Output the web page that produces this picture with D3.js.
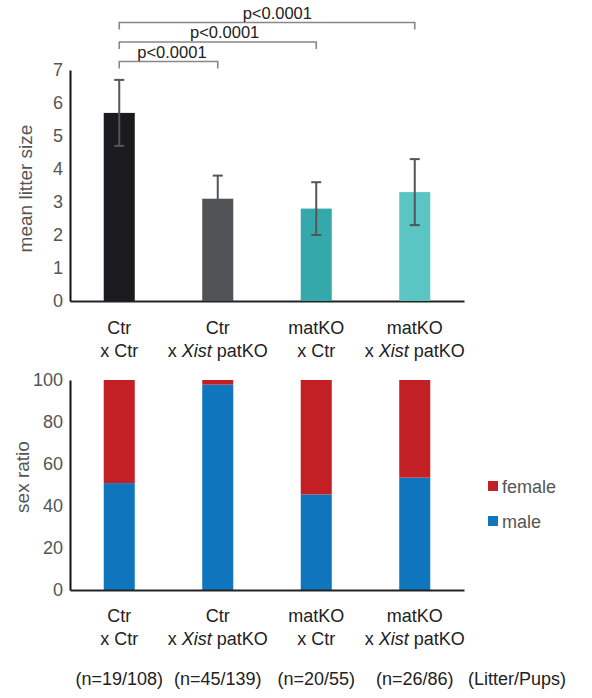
<!DOCTYPE html>
<html>
<head>
<meta charset="utf-8">
<script src="https://cdn.jsdelivr.net/npm/d3@7"></script>
<style>
  body { margin: 0; background: #fff; }
  svg text { font-family: "Liberation Sans", Arial, sans-serif; }
</style>
</head>
<body>
<svg width="592" height="698"></svg>
<script>
// data
var mothers = ["Ctr", "Ctr", "matKO", "matKO"];
var fathers = ["Ctr", "Xist patKO", "Ctr", "Xist patKO"];
var meanLitter = [5.7, 3.1, 2.8, 3.3];
var litterErr = [1.0, 0.7, 0.8, 1.0];
var barColors = ["#1b1a1f", "#505457", "#35a8ab", "#5bc5c4"];
var comparisons = [[0, 1], [0, 2], [0, 3]];
var pLabels = ["p<0.0001", "p<0.0001", "p<0.0001"];
var malePct = [50.9, 97.8, 45.5, 53.5];
var femalePct = [49.1, 2.2, 54.5, 46.5];
var sexKeys = ["male", "female"];
var sexColors = { male: "#0f75bc", female: "#c32026" };
var nLabels = ["(n=19/108)", "(n=45/139)", "(n=20/55)", "(n=26/86)"];
var litterTicks = [0, 1, 2, 3, 4, 5, 6, 7];
var ratioTicks = [0, 20, 40, 60, 80, 100];

var svg = d3.select("svg");
var idx = d3.range(mothers.length);

var x = d3.scaleBand()
  .domain(idx)
  .range([70, 464])
  .paddingInner(0.685)
  .paddingOuter(0.3425);
var cx = function (i) { return x(i) + x.bandwidth() / 2; };

var yTop = d3.scaleLinear().domain([0, 7]).range([301, 70]);
var yBot = d3.scaleLinear().domain([0, 100]).range([590, 380]);

function yAxis(g, scale, ticks) {
  g.call(d3.axisLeft(scale).tickValues(ticks).tickFormat(d3.format("d"))
    .tickSize(0).tickPadding(7).tickSizeOuter(0));
  g.select(".domain").attr("stroke", "#111").attr("stroke-width", 2);
  g.selectAll("text").attr("font-size", 18).attr("fill", "#555")
    .attr("font-family", "Liberation Sans, Arial, sans-serif");
}

function xAxis(g) {
  g.call(d3.axisBottom(x).tickSize(0).tickSizeOuter(0).tickFormat(""));
  g.select(".domain").attr("stroke", "#222").attr("stroke-width", 2);
}

function catLabels(y0) {
  var g = svg.append("g").attr("font-size", 18).attr("fill", "#222").attr("text-anchor", "middle");
  g.selectAll(".l1").data(idx).enter().append("text")
    .attr("x", cx).attr("y", y0)
    .text(function (i) { return mothers[i]; });
  var t = g.selectAll(".l2").data(idx).enter().append("text")
    .attr("x", cx).attr("y", y0 + 23);
  t.each(function (i) {
    var el = d3.select(this);
    el.append("tspan").text("x ");
    fathers[i].split(" ").forEach(function (w, k) {
      if (k > 0) el.append("tspan").text(" ");
      el.append("tspan").text(w).attr("font-style", w === "Xist" ? "italic" : null);
    });
  });
}

// ---- top: mean litter size ----
svg.append("g").attr("transform", "translate(0,301)").call(xAxis);

svg.append("g").selectAll("rect").data(idx).enter().append("rect")
  .attr("x", function (i) { return x(i); })
  .attr("width", x.bandwidth())
  .attr("y", function (i) { return yTop(meanLitter[i]); })
  .attr("height", function (i) { return yTop(0) - yTop(meanLitter[i]); })
  .attr("fill", function (i) { return barColors[i]; });

var eb = svg.append("g").attr("stroke", "#555").attr("stroke-width", 2);
idx.forEach(function (i) {
  var hi = yTop(meanLitter[i] + litterErr[i]), lo = yTop(meanLitter[i] - litterErr[i]);
  eb.append("line").attr("x1", cx(i)).attr("x2", cx(i)).attr("y1", hi).attr("y2", lo);
  eb.append("line").attr("x1", cx(i) - 5).attr("x2", cx(i) + 5).attr("y1", hi).attr("y2", hi);
  eb.append("line").attr("x1", cx(i) - 5).attr("x2", cx(i) + 5).attr("y1", lo).attr("y2", lo);
});

svg.append("g").attr("transform", "translate(70,0)").call(yAxis, yTop, litterTicks);

svg.append("text")
  .attr("transform", "translate(32," + ((yTop(0) + yTop(7)) / 2 + 3) + ") rotate(-90)")
  .attr("text-anchor", "middle").attr("font-size", 19).attr("fill", "#555")
  .text("mean litter size");

// significance brackets
comparisons.forEach(function (c, k) {
  var x1 = cx(c[0]), x2 = cx(c[1]);
  var yb = 61.5 - k * 19.5;
  svg.append("path")
    .attr("d", "M" + x1 + "," + (yb + 7) + "V" + yb + "H" + x2 + "V" + (yb + 7))
    .attr("fill", "none").attr("stroke", "#888").attr("stroke-width", 1.6);
  svg.append("text")
    .attr("x", (x1 + x2) / 2 + (x2 - x1) * 0.035)
    .attr("y", yb - 4)
    .attr("text-anchor", "middle").attr("font-size", 16.5).attr("fill", "#222")
    .text(pLabels[k]);
});

catLabels(334);

// ---- bottom: sex ratio ----
var stackRows = idx.map(function (i) { return { male: malePct[i], female: femalePct[i], i: i }; });
var stacked = d3.stack().keys(sexKeys)(stackRows);

svg.append("g").selectAll("g").data(stacked).enter().append("g")
  .attr("fill", function (s) { return sexColors[s.key]; })
  .selectAll("rect").data(function (s) { return s; }).enter().append("rect")
  .attr("x", function (d) { return x(d.data.i); })
  .attr("width", x.bandwidth())
  .attr("y", function (d) { return yBot(d[1]); })
  .attr("height", function (d) { return yBot(d[0]) - yBot(d[1]); });

svg.append("g").attr("transform", "translate(0,590)").call(xAxis);
svg.append("g").attr("transform", "translate(70,0)").call(yAxis, yBot, ratioTicks);

svg.append("text")
  .attr("transform", "translate(29," + ((yBot(0) + yBot(100)) / 2 - 8) + ") rotate(-90)")
  .attr("text-anchor", "middle").attr("font-size", 19).attr("fill", "#555")
  .text("sex ratio");

// legend
var legendKeys = ["female", "male"];
var lg = svg.append("g").attr("transform", "translate(" + (x.range()[1] + 24) + ",481)");
legendKeys.forEach(function (k, j) {
  lg.append("rect").attr("x", 0).attr("y", j * 35).attr("width", 10).attr("height", 10)
    .attr("fill", sexColors[k]);
  lg.append("text").attr("x", 14).attr("y", j * 35 + 11.5)
    .attr("font-size", 18).attr("fill", "#555").text(k);
});

catLabels(622);

svg.append("g").attr("font-size", 18).attr("fill", "#222").attr("text-anchor", "middle")
  .selectAll("text").data(idx).enter().append("text")
  .attr("x", cx).attr("y", 685)
  .text(function (i) { return nLabels[i]; });

svg.append("text")
  .attr("x", x.range()[1] + 4).attr("y", 685)
  .attr("font-size", 18).attr("fill", "#222")
  .text("(Litter/Pups)");
</script>
</body>
</html>
